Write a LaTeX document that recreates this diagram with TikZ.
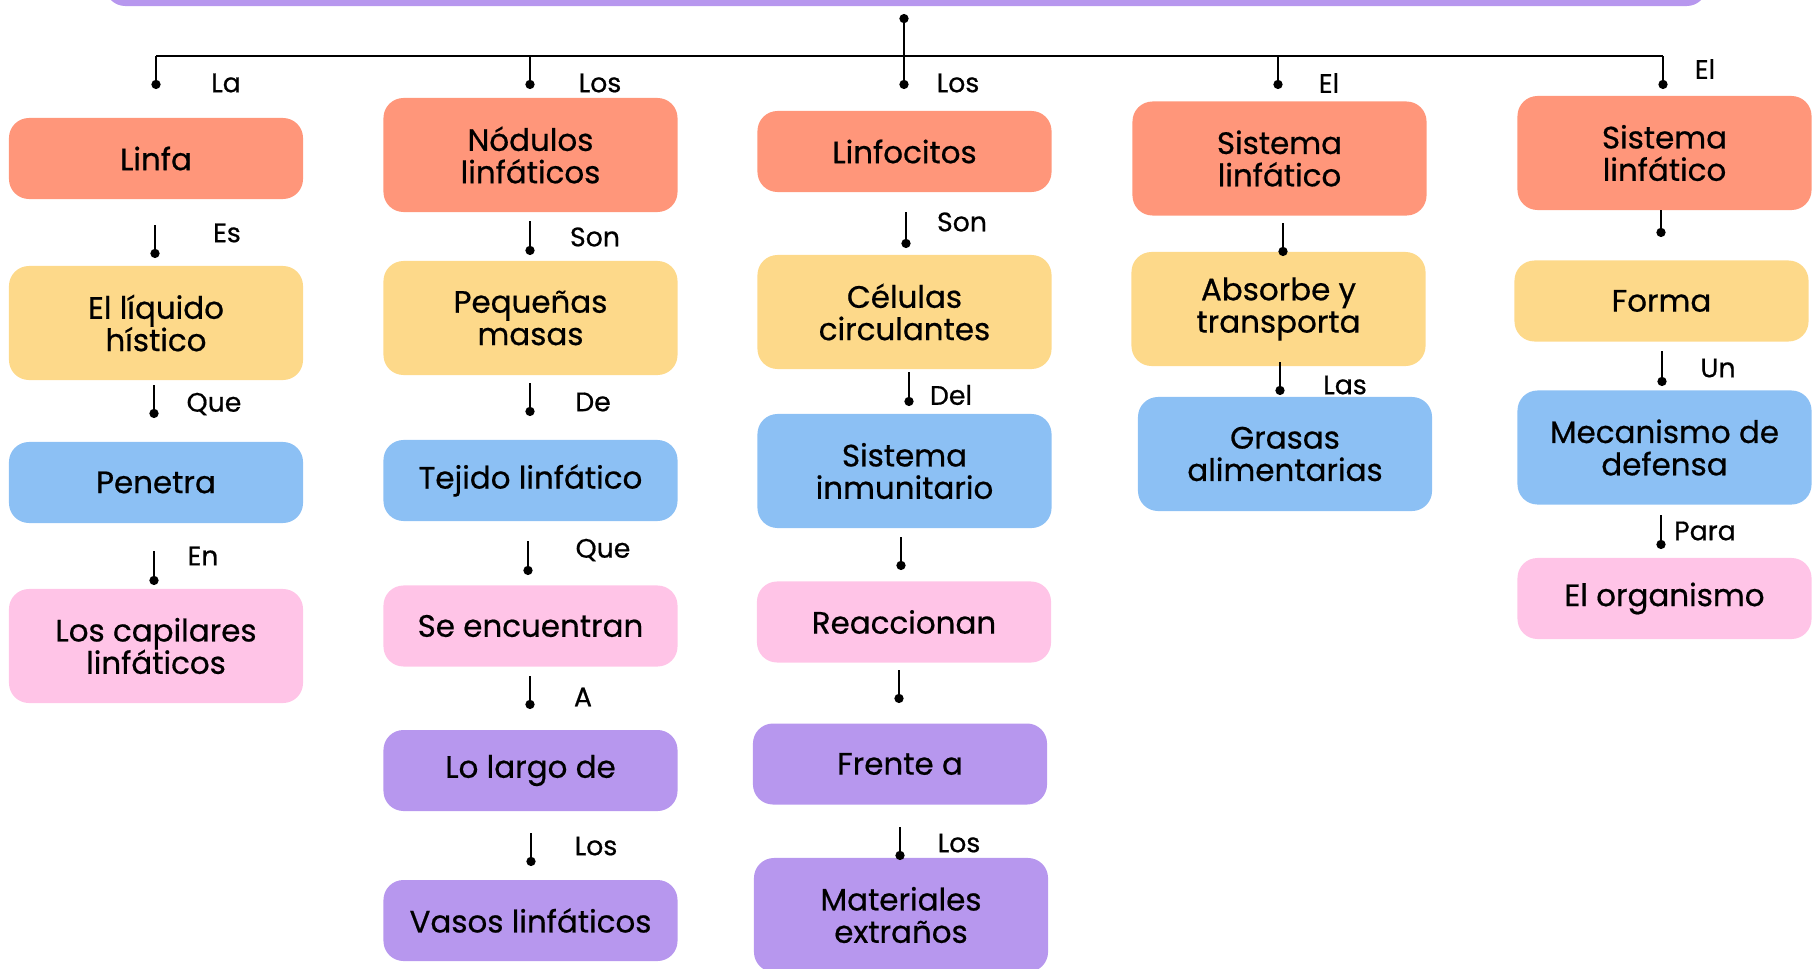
\documentclass[tikz,border=0pt]{standalone}
\usepackage{fontspec}
\setmainfont{Poppins}[FakeBold=0.6]
\usepackage{tikz}
\usetikzlibrary{arrows.meta}

\definecolor{salmon}{HTML}{FF967A}
\definecolor{sand}{HTML}{FDD98A}
\definecolor{sky}{HTML}{8CC0F4}
\definecolor{rosa}{HTML}{FFC4E7}
\definecolor{lila}{HTML}{B797EE}

\tikzset{
  box/.style={rectangle, rounded corners=0.5cm, minimum width=7.35cm, inner sep=0pt,
    align=center, font=\fontsize{22}{23}\selectfont},
  one/.style={box, minimum height=2.025cm},
  two/.style={box, minimum height=2.85cm},
  stub/.style={line width=1.4pt, -{Circle[length=6.5pt]}},
  lbl/.style={font=\fontsize{19}{20}\selectfont, inner sep=0pt},
}

\begin{document}
\begin{tikzpicture}[x=0.025cm, y=-0.025cm]
        \useasboundingbox (0,0) rectangle (1815,968);

        % top bar (cut off)
        \node[box, fill=lila, minimum width=40.03cm, minimum height=1.5cm] (tema) at (906,-24) {};

        % column 1
        \node[one, fill=salmon] (linfa) at (156,158.5) {Linfa};
        \node[two, fill=sand] (liquido) at (156,323) {El líquido\\hístico};
        \node[one, fill=sky] (penetra) at (156,482.5) {Penetra};
        \node[two, fill=rosa] (capilares) at (156,646) {Los capilares\\linfáticos};

        % column 2
        \node[two, fill=salmon] (nodulos) at (530.5,155) {Nódulos\\linfáticos};
        \node[two, fill=sand] (masas) at (530.5,318) {Pequeñas\\masas};
        \node[one, fill=sky] (tejido) at (530.5,480.5) {Tejido linfático};
        \node[one, fill=rosa] (encuentran) at (530.5,626) {Se encuentran};
        \node[one, fill=lila] (largo) at (530.5,770.5) {Lo largo de};
        \node[one, fill=lila] (vasos) at (530.5,920.5) {Vasos linfáticos};

        % column 3
        \node[one, fill=salmon] (linfocitos) at (904.5,151.5) {Linfocitos};
        \node[two, fill=sand] (celulas) at (904.5,312) {Células\\circulantes};
        \node[two, fill=sky] (inmune) at (904.5,471) {Sistema\\inmunitario};
        \node[one, fill=rosa] (reaccionan) at (904,622) {Reaccionan};
        \node[one, fill=lila] (frente) at (900,764) {Frente a};
        \node[two, fill=lila] (materiales) at (901,915) {Materiales\\extraños};

        % column 4
        \node[two, fill=salmon] (sistA) at (1279.5,158.5) {Sistema\\linfático};
        \node[two, fill=sand] (absorbe) at (1278.5,309) {Absorbe y\\transporta};
        \node[two, fill=sky] (grasas) at (1285,454) {Grasas\\alimentarias};

        % column 5
        \node[two, fill=salmon] (sistB) at (1664.5,153) {Sistema\\linfático};
        \node[one, fill=sand] (forma) at (1661.5,301) {Forma};
        \node[two, fill=sky] (mecanismo) at (1664.5,447.5) {Mecanismo de\\defensa};
        \node[one, fill=rosa] (organismo) at (1664.5,598.5) {El organismo};

        % branches
        \coordinate (hub) at (904,56);
        \coordinate (hubtop) at (904,14);
        \coordinate (hl) at (156,56);
        \coordinate (hr) at (1663,56);
        \draw[stub] (hub) -- (hubtop);
        \draw[line width=1.4pt] (hl) -- (hr);
        \foreach \x/\n in {156/1, 530/2, 904/3, 1278/4, 1663/5} {
            \coordinate (b\n) at (\x,56);
            \coordinate (e\n) at (\x,89);
            \draw[stub] (b\n) -- (e\n);
        }
        \node[lbl] (la) at (226,83) {La};
        \node[lbl] (los1) at (600,83) {Los};
        \node[lbl] (los2) at (958,83) {Los};
        \node[lbl] (el1) at (1329,83) {El};
        \node[lbl] (el2) at (1705,69) {El};

        % short links
        \foreach \x/\ya/\yb/\n in {155/225/258/1, 154/385/418/2, 154/551/585/3,
                530/221/255/4, 530/383/416/5, 528/541/575/6, 530/676/709/7, 531/833/866/8,
                906/212/248/9, 909/372/406/10, 901/537/570/11, 899/670/703/12, 900/827/860/13,
                1283/223/256/14, 1280/362/395/15,
                1661/210/237/16, 1662/351/386/17, 1661/515/549/18} {
            \coordinate (s\n) at (\x,\ya);
            \coordinate (t\n) at (\x,\yb);
            \draw[stub] (s\n) -- (t\n);
        }

        \node[lbl] (es) at (227,233) {Es};
        \node[lbl] (que1) at (214,404) {Que};
        \node[lbl] (en) at (203,556) {En};
        \node[lbl] (son1) at (595,237) {Son};
        \node[lbl] (de) at (593,402) {De};
        \node[lbl] (que2) at (603,550) {Que};
        \node[lbl] (a) at (583,697) {A};
        \node[lbl] (los3) at (596,846) {Los};
        \node[lbl] (son2) at (962,222) {Son};
        \node[lbl] (del) at (951,395) {Del};
        \node[lbl] (los4) at (959,843) {Los};
        \node[lbl] (las) at (1345,385) {Las};
        \node[lbl] (un) at (1718,368) {Un};
        \node[lbl] (para) at (1705,531) {Para};
\end{tikzpicture}
\end{document}
